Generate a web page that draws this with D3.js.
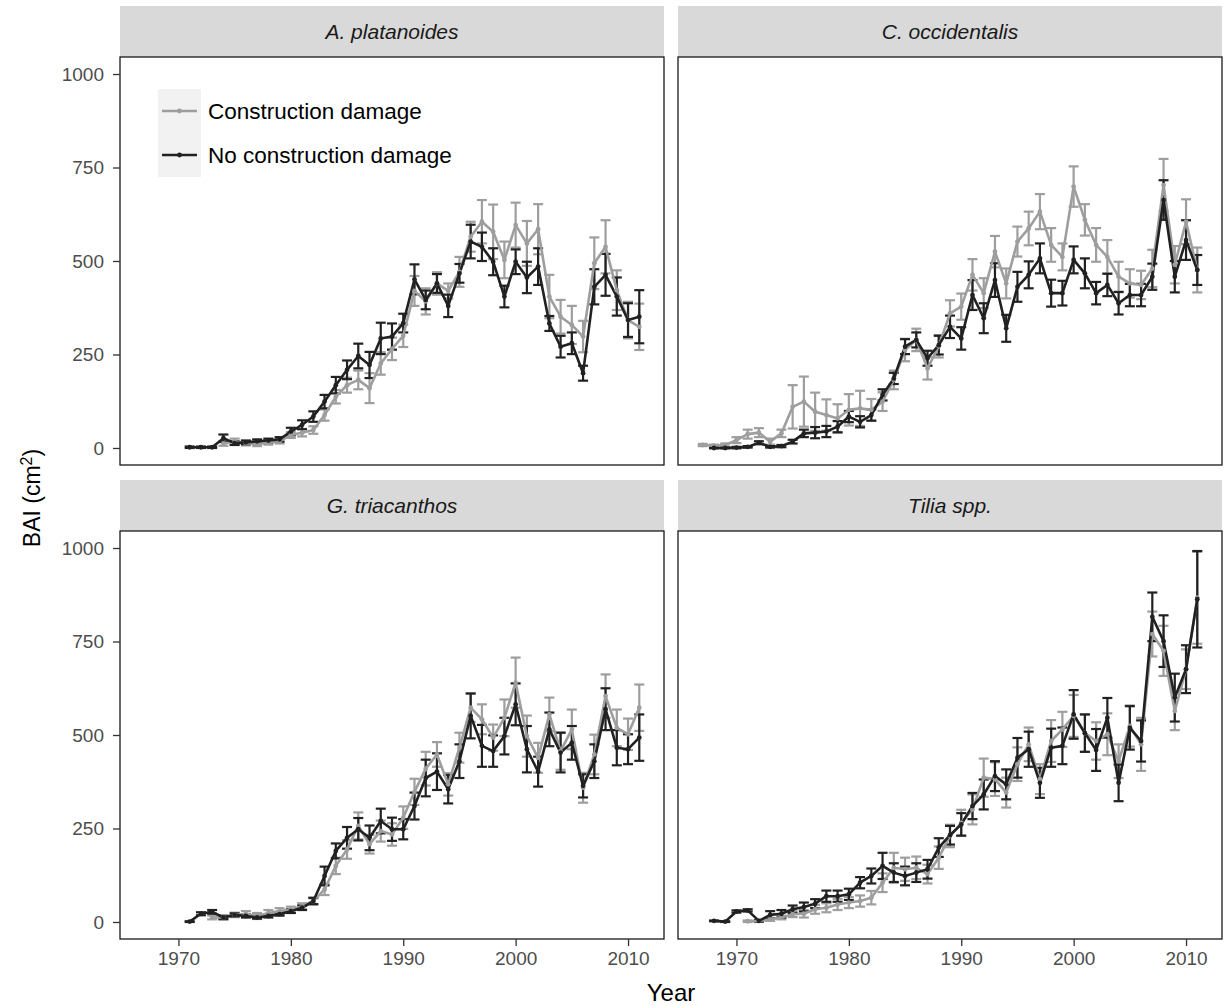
<!DOCTYPE html>
<html><head><meta charset="utf-8">
<script src="https://cdn.jsdelivr.net/npm/d3@7"></script>
<style>
body{margin:0;background:#fff}
text{font-family:"Liberation Sans",Arial,sans-serif}
</style>
</head><body>
<svg id="chart" width="1230" height="1006"></svg>
<script>
// Facets, groups and axis ticks
const species = ["A. platanoides", "C. occidentalis", "G. triacanthos", "Tilia spp."];
const groups = ["Construction damage", "No construction damage"];
const yTicks = [0, 250, 500, 750, 1000];
const xTicks = [1970, 1980, 1990, 2000, 2010];

// Mean annual basal area increment (cm²) and standard error, one value per year from the start year
const platDamageStart = 1974;
const platDamage   = [12,17,13,10,15,18,35,41,48, 88,137,168,182,160,226,265,300,420,392, 440,420,471,565,605,578,503,596,547,585, 405,351,329,298,494,538,422,342,324];
const platDamageSE = [6,8,6,5,6,6,8,10,10, 15,18,20,25,40,30,30,30,40,35, 30,20,40,40,58,73,49,60,60,67, 58,45,51,42,69,71,53,49,62];
const platNoneStart = 1971;
const platNone   = [2,2,2,26,13,15,18,20,23,44, 62,84,124,168,209,246,222,293,298,334, 451,396,440,380,467,552,538,498,405,498, 456,485,333,271,280,200,431,463,405,342, 351];
const platNoneSE = [2,2,2,10,5,5,5,5,6,10, 12,14,18,22,25,33,35,42,35,25, 40,25,25,30,25,45,38,36,29,33, 42,49,20,29,29,20,47,56,51,45, 71];

const occDamageStart = 1967;
const occDamage   = [8,6,8,21,37,41,17,39,110,124, 97,88,79,102,106,102,124,182,262,289, 213,272,360,378,463,414,525,440,552,587, 632,543,511,699,610,543,511,458,440,436, 480,703,490,605,476];
const occDamageSE = [3,3,4,8,12,12,8,10,58,67, 51,42,38,42,47,29,25,25,30,30, 30,30,35,35,42,40,42,40,40,45, 47,45,36,54,42,45,45,40,38,38, 50,70,50,60,60];
const occNoneStart = 1968;
const occNone   = [0,0,1,3,14,3,5,17,39,41, 44,57,84,70,88,142,186,271,289,240, 275,324,293,409,347,449,320,431,463,507, 414,414,503,467,414,436,387,409,409,458, 663,458,556,476];
const occNoneSE = [1,1,2,2,4,2,3,5,10,15, 15,15,15,15,15,15,15,20,20,20, 25,30,30,40,40,45,36,40,36,40, 36,33,36,40,30,30,30,30,30,35, 53,42,53,40];

const triDamageStart = 1973;
const triDamage   = [12,12,19,21,16,24,29,33,42,56, 87,150,194,257,208,243,234,279,348,410, 448,368,466,573,542,493,546,640,497,439, 555,457,515,359,448,604,519,502,573];
const triDamageSE = [5,6,6,8,8,8,8,8,8,10, 15,22,25,36,25,28,30,30,35,45, 33,30,40,38,40,35,49,67,55,40, 45,50,53,40,53,58,49,42,62];
const triNoneStart = 1971;
const triNone   = [1,22,27,12,19,16,12,16,21,29, 38,56,123,190,225,248,225,270,248,248, 310,385,402,355,430,551,471,457,497,582, 462,402,515,453,479,364,430,569,466,462, 493];
const triNoneSE = [1,4,5,4,4,4,3,4,4,5, 6,8,25,20,29,30,33,33,31,27, 36,49,49,38,45,60,56,42,49,56, 62,40,45,53,45,31,45,56,47,40, 62];

const tilDamageStart = 1971;
const tilDamage   = [2,3,7,12,21,22,34,38,47,52, 56,65,105,145,141,145,128,172,230,265, 301,386,382,346,422,475,382,484,515,551, 505,484,502,430,524,475,770,725,564,676, 867];
const tilDamageSE = [2,3,4,5,8,10,12,12,15,15, 15,18,25,40,31,30,25,30,30,35, 40,51,45,40,45,45,40,56,47,56, 50,50,56,45,55,71,60,67,51,53, 123];
const tilNoneStart = 1968;
const tilNone   = [3,1,28,31,3,19,22,34,40,49, 69,69,74,105,123,150,132,123,132,141, 199,232,261,310,341,390,368,439,462,372, 466,471,555,505,460,546,372,519,484,816, 751,600,676,863];
const tilNoneSE = [1,1,3,3,2,10,10,10,12,12, 15,15,15,15,20,35,25,25,25,25, 25,25,30,35,40,40,40,53,47,40, 51,49,65,50,56,53,49,58,55,65, 69,64,64,129];

// Assemble year records for each facet and group
function records(start, means, ses) {
  return means.map((m, i) => ({year: start + i, mean: m, se: ses[i]}));
}
const facets = [
  {name: species[0], series: [records(platDamageStart, platDamage, platDamageSE), records(platNoneStart, platNone, platNoneSE)]},
  {name: species[1], series: [records(occDamageStart, occDamage, occDamageSE), records(occNoneStart, occNone, occNoneSE)]},
  {name: species[2], series: [records(triDamageStart, triDamage, triDamageSE), records(triNoneStart, triNone, triNoneSE)]},
  {name: species[3], series: [records(tilDamageStart, tilDamage, tilDamageSE), records(tilNoneStart, tilNone, tilNoneSE)]}
];

const colors = d3.scaleOrdinal().domain(groups).range(["#9e9e9e", "#212121"]);

// Layout of the 2x2 facet grid
const panelW = 544, panelH = 408;
const colX = [120, 678];
const rowY = [57, 531];
const stripH = 51;
const font = "Liberation Sans, Arial, sans-serif";

// shared scales, padded 5% beyond the data range on each side
const allYears = facets.flatMap(f => f.series.flat().map(d => d.year));
const [yr0, yr1] = d3.extent(allYears);
const padX = (yr1 - yr0) * 0.05;
const x = d3.scaleLinear().domain([yr0 - padX, yr1 + padX]).range([0, panelW]);
const y = d3.scaleLinear().domain([-45.5, 1045.5]).range([panelH, 0]);

const svg = d3.select("#chart");

facets.forEach((f, i) => {
  const col = i % 2, row = Math.floor(i / 2);
  const px = colX[col], py = rowY[row];

  // strip
  svg.append("rect").attr("x", px).attr("y", py - stripH).attr("width", panelW).attr("height", stripH)
    .attr("fill", "#d9d9d9");
  svg.append("text").attr("x", px + panelW / 2).attr("y", py - stripH / 2 + 7)
    .attr("text-anchor", "middle").attr("font-size", 21).attr("font-style", "italic")
    .attr("fill", "#1a1a1a").text(f.name);

  const g = svg.append("g").attr("transform", `translate(${px},${py})`);
  g.append("rect").attr("width", panelW).attr("height", panelH).attr("fill", "#fff");

  // error bars of both groups first, then lines, then points
  f.series.forEach((s, k) => {
    const c = colors(groups[k]);
    const eb = g.append("g").attr("stroke", c).attr("stroke-width", 2.2).attr("fill", "none");
    s.forEach(d => {
      const cx = x(d.year), y0 = y(d.mean - d.se), y1 = y(d.mean + d.se);
      eb.append("line").attr("x1", cx).attr("x2", cx).attr("y1", y0).attr("y2", y1);
      eb.append("line").attr("x1", cx - 5).attr("x2", cx + 5).attr("y1", y0).attr("y2", y0);
      eb.append("line").attr("x1", cx - 5).attr("x2", cx + 5).attr("y1", y1).attr("y2", y1);
    });
  });
  const line = d3.line().x(d => x(d.year)).y(d => y(d.mean));
  f.series.forEach((s, k) => {
    g.append("path").datum(s).attr("d", line).attr("fill", "none")
      .attr("stroke", colors(groups[k])).attr("stroke-width", 2.6).attr("stroke-linejoin", "round");
  });
  f.series.forEach((s, k) => {
    g.selectAll(null).data(s).enter().append("circle")
      .attr("cx", d => x(d.year)).attr("cy", d => y(d.mean)).attr("r", 2.4)
      .attr("fill", colors(groups[k]));
  });

  g.append("rect").attr("width", panelW).attr("height", panelH)
    .attr("fill", "none").attr("stroke", "#1a1a1a").attr("stroke-width", 1.3);

  // axes only on the outer side of the grid
  if (col === 0) {
    const ay = g.append("g").call(d3.axisLeft(y).tickValues(yTicks).tickFormat(d3.format("d")).tickSize(7).tickPadding(9));
    ay.select(".domain").remove();
    ay.selectAll(".tick line").attr("stroke", "#333").attr("stroke-width", 1.3);
    ay.selectAll(".tick text").attr("font-size", 19).attr("fill", "#4d4d4d").attr("font-family", font);
  }
  if (row === 1) {
    const ax = g.append("g").attr("transform", `translate(0,${panelH})`)
      .call(d3.axisBottom(x).tickValues(xTicks).tickFormat(d3.format("d")).tickSize(7).tickPadding(6));
    ax.select(".domain").remove();
    ax.selectAll(".tick line").attr("stroke", "#333").attr("stroke-width", 1.3);
    ax.selectAll(".tick text").attr("font-size", 19).attr("fill", "#4d4d4d").attr("font-family", font);
  }
});

// axis titles
svg.append("text").attr("x", 671).attr("y", 1001).attr("text-anchor", "middle")
  .attr("font-size", 24).attr("fill", "#000").text("Year");
const yt = svg.append("text").attr("transform", "translate(40,498) rotate(-90)")
  .attr("text-anchor", "middle").attr("font-size", 23).attr("fill", "#000");
yt.append("tspan").text("BAI (cm");
yt.append("tspan").attr("baseline-shift", "super").attr("font-size", 16).text("2");
yt.append("tspan").text(")");

// legend inside the first panel
const lg = svg.append("g").attr("transform", "translate(158,89)");
groups.forEach((name, k) => {
  const gy = k * 44;
  lg.append("rect").attr("x", 0).attr("y", gy).attr("width", 43).attr("height", 44).attr("fill", "#f2f2f2");
  lg.append("line").attr("x1", 4).attr("x2", 39).attr("y1", gy + 22).attr("y2", gy + 22)
    .attr("stroke", colors(name)).attr("stroke-width", 2.6);
  lg.append("circle").attr("cx", 21.5).attr("cy", gy + 22).attr("r", 2.4).attr("fill", colors(name));
  lg.append("text").attr("x", 50).attr("y", gy + 30).attr("font-size", 22.5).attr("fill", "#000").text(name);
});
</script>
</body></html>
